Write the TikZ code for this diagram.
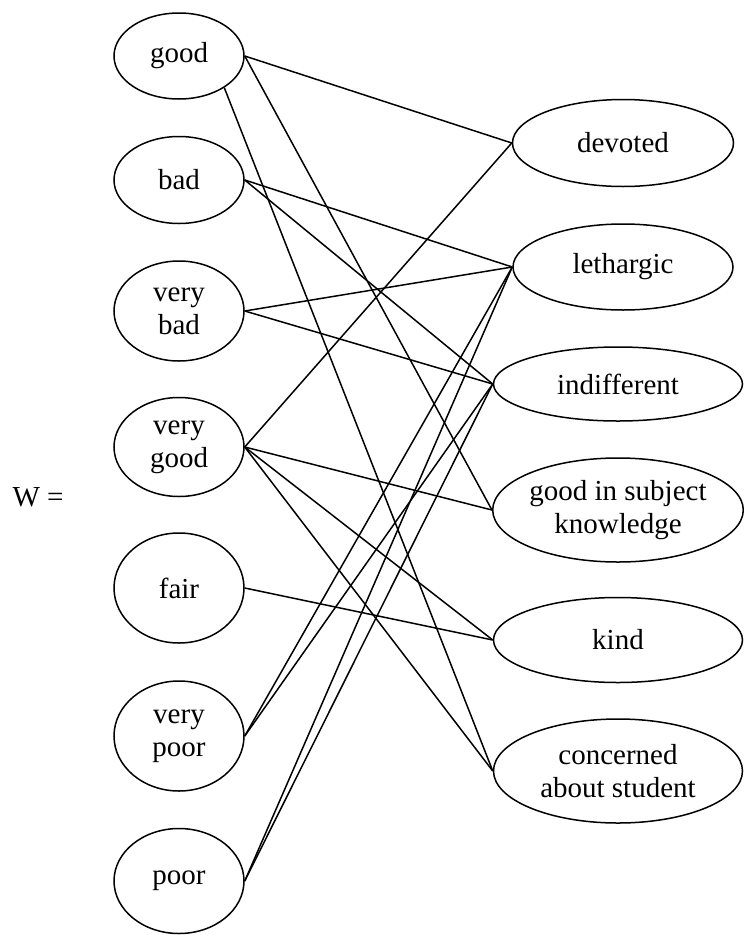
\documentclass[tikz,border=0pt]{standalone}
\usepackage{fontspec}
\setmainfont{Liberation Serif}
\usetikzlibrary{shapes.geometric,positioning}

\begin{document}
\begin{tikzpicture}[x=1pt, y=-1pt, line width=1.5pt,
    every node/.style={font=\fontsize{29}{33}\selectfont, align=center, inner sep=0pt},
    grade/.style={ellipse, draw, minimum width=130pt},
    trait/.style={ellipse, draw, minimum width=249pt},
    link/.style={line width=1.5pt}]
    \useasboundingbox (0,0) rectangle (744,935);

    % Label
    \node (wlabel) at (38,497) {W =};

    % Grades (left)
    \node[grade, minimum height=86pt]  (good)     at (179,56)  {good};
    \node[grade, minimum height=87pt]  (bad)      at (179,180) {bad};
    \node[grade, minimum height=100pt] (verybad)  at (179,311) {very\\bad};
    \node[grade, minimum height=99pt]  (verygood) at (179,447) {very\\good};
    \node[grade, minimum height=110pt] (fair)     at (179,588) {fair};
    \node[grade, minimum height=110pt] (verypoor) at (179,736) {very\\poor};
    \node[grade, minimum height=105pt] (poor)     at (179,881) {poor};

    % Traits (right)
    \node[trait, minimum width=221pt, minimum height=87pt] (devoted)   at (623,143) {devoted};
    \node[trait, minimum width=220pt, minimum height=86pt] (lethargic) at (623,267) {lethargic};
    \node[trait, minimum height=74pt]  (indifferent) at (618,384) {indifferent};
    \node[trait, minimum height=104pt] (knowledge)   at (618,510) {good in subject\\knowledge};
    \node[trait, minimum height=85pt]  (kind)        at (618,640) {kind};
    \node[trait, minimum height=104pt] (concerned)   at (618,771) {concerned\\about student};

    % Relations
    \draw[link] (good.east) -- (devoted.west);
    \draw[link] (good.east) -- (knowledge.west);
    \draw[link] (good.-35) -- (concerned.west);
    \draw[link] (bad.east) -- (lethargic.west);
    \draw[link] (bad.east) -- (indifferent.west);
    \draw[link] (verybad.east) -- (lethargic.west);
    \draw[link] (verybad.east) -- (indifferent.west);
    \draw[link] (verygood.east) -- (devoted.west);
    \draw[link] (verygood.east) -- (knowledge.west);
    \draw[link] (verygood.east) -- (kind.west);
    \draw[link] (verygood.east) -- (concerned.west);
    \draw[link] (fair.east) -- (kind.west);
    \draw[link] (verypoor.east) -- (lethargic.west);
    \draw[link] (verypoor.east) -- (indifferent.west);
    \draw[link] (poor.east) -- (lethargic.west);
    \draw[link] (poor.east) -- (indifferent.west);
\end{tikzpicture}
\end{document}
